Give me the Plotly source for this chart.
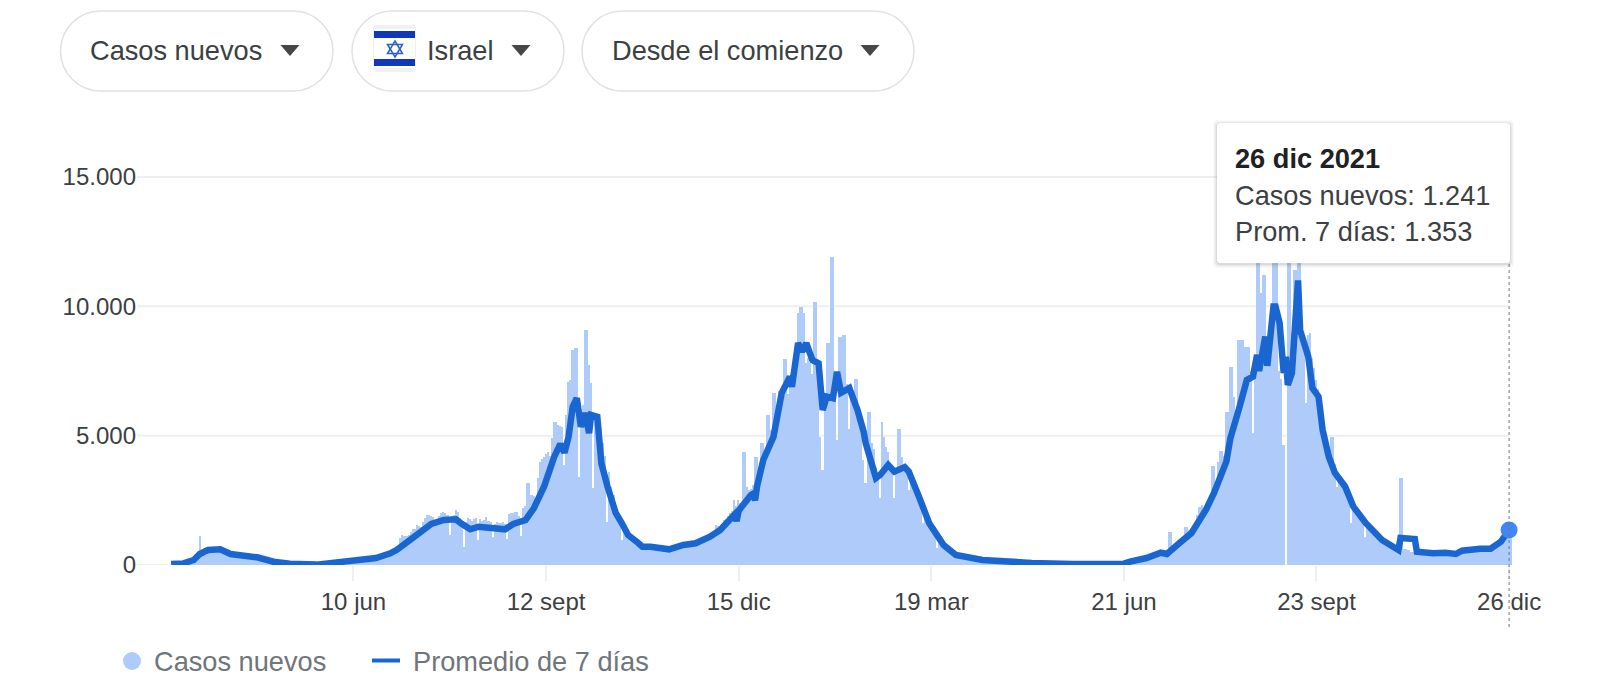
import pandas as pd
import plotly.graph_objects as go

# COVID-19 daily cases for Israel, 13 Mar 2020 - 26 Dec 2021 (one row per week)
start_date = "2020-03-13"
new_cases = [
    30, 20, 10, 60, 70, 80, 100,
    120, 100, 70, 180, 280, 350, 1120,
    500, 430, 400, 560, 620, 650, 640,
    620, 600, 540, 640, 620, 560, 460,
    430, 400, 330, 420, 420, 410, 400,
    380, 370, 230, 370, 340, 330, 310,
    300, 280, 150, 260, 230, 200, 170,
    140, 120, 60, 100, 90, 80, 70,
    60, 50, 20, 40, 40, 30, 30,
    25, 20, 10, 20, 20, 15, 15,
    15, 20, 8, 20, 25, 30, 35,
    40, 50, 30, 70, 90, 100, 110,
    120, 130, 90, 170, 180, 190, 200,
    210, 210, 220, 230, 240, 240, 250,
    260, 270, 280, 290, 330, 360, 390,
    430, 470, 500, 560, 650, 750, 1050,
    1160, 1120, 1130, 1170, 1270, 1390, 1380,
    1546, 1500, 1450, 1680, 1800, 1930, 1920,
    1900, 1870, 1750, 1780, 1900, 2020, 2030,
    2020, 1950, 1160, 1880, 1950, 2126, 2050,
    1830, 1700, 707, 1650, 1800, 1780, 1700,
    1760, 1800, 966, 1780, 1700, 1750, 1860,
    1720, 1650, 1094, 1600, 1660, 1640, 1620,
    1650, 1600, 1005, 1960, 2000, 2010, 2050,
    2040, 1900, 1120, 2220, 2300, 3180, 3180,
    2700, 2650, 2600, 3350, 3980, 4100, 4175,
    4300, 4350, 4200, 4900, 5530, 5520, 5430,
    5380, 5350, 3866, 5800, 7090, 7150, 8310,
    8390, 8390, 3410, 5800, 6200, 9080, 9080,
    7730, 7030, 2976, 5800, 5700, 5500, 5300,
    4700, 4200, 1674, 3600, 3000, 2700, 2300,
    2050, 1850, 966, 1650, 1500, 1300, 1120,
    1050, 950, 820, 860, 800, 760, 700,
    700, 680, 670, 690, 680, 650, 660,
    640, 630, 615, 610, 620, 640, 660,
    680, 690, 720, 750, 780, 790, 800,
    830, 860, 860, 870, 880, 900, 950,
    980, 1020, 1060, 1130, 1180, 1260, 1546,
    1500, 1430, 1380, 1740, 1780, 1900, 2000,
    2100, 2513, 2300, 2513, 2400, 4380, 4380,
    3000, 2900, 2950, 3100, 4187, 4187, 3700,
    4710, 4710, 4300, 5800, 5800, 5200, 6660,
    6660, 6000, 6740, 6300, 7960, 7960, 6600,
    7100, 7300, 8050, 8050, 9740, 9970, 9970,
    9740, 7800, 8000, 7800, 7400, 10180, 10180,
    7800, 4960, 3672, 6300, 8580, 8580, 11920,
    11920, 6700, 4830, 8810, 8810, 8890, 8890,
    7000, 5250, 6800, 6700, 7190, 7190, 6100,
    5600, 4050, 3170, 5900, 5900, 4700, 4500,
    3800, 3500, 2590, 5530, 4950, 4570, 4350,
    3900, 3700, 2590, 3700, 5260, 5260, 4190,
    3800, 3700, 2900, 3500, 3400, 3200, 2900,
    2700, 2500, 1612, 2200, 2100, 1900, 1700,
    1500, 1350, 657, 1100, 950, 900, 800,
    700, 620, 530, 560, 500, 460, 420,
    380, 340, 320, 300, 280, 250, 240,
    230, 220, 120, 190, 190, 170, 170,
    160, 150, 80, 130, 130, 120, 120,
    120, 110, 60, 100, 100, 90, 90,
    90, 90, 50, 85, 80, 80, 80,
    80, 75, 40, 70, 70, 65, 60,
    60, 55, 30, 55, 50, 50, 50,
    45, 45, 20, 40, 40, 40, 35,
    35, 30, 15, 30, 30, 25, 25,
    25, 25, 12, 25, 20, 20, 20,
    20, 25, 10, 25, 25, 30, 35,
    40, 45, 25, 55, 70, 90, 125,
    150, 170, 190, 210, 230, 250, 270,
    290, 310, 340, 370, 410, 430, 460,
    490, 450, 470, 1288, 1288, 760, 760,
    800, 850, 900, 950, 1480, 1480, 1350,
    1250, 1350, 1500, 1950, 2250, 2320, 2200,
    2350, 2500, 2600, 3827, 3827, 3200, 4000,
    4420, 4420, 4200, 5930, 5930, 7650, 7650,
    6510, 6000, 8700, 8700, 8700, 8430, 8430,
    8430, 7500, 5100, 7800, 12700, 12700, 10500,
    11200, 11200, 8800, 8000, 9000, 12900, 12900,
    12900, 7500, 7200, 4640, 0, 12400, 12400,
    9000, 11400, 11400, 12300, 12300, 9500, 8800,
    6260, 8900, 8970, 8000, 7600, 7150, 6800,
    6500, 5600, 4700, 4500, 4300, 4950, 4950,
    3900, 3027, 3500, 3350, 3200, 3050, 2950,
    2700, 1624, 2400, 2250, 2100, 1950, 1850,
    1750, 1094, 1550, 1500, 1420, 1350, 1250,
    1180, 1100, 1050, 1000, 950, 880, 820,
    760, 720, 680, 620, 3375, 3375, 620,
    600, 580, 500, 520, 480, 480, 470,
    460, 440, 440, 440, 440, 440, 440,
    440, 430, 430, 430, 430, 520, 450,
    430, 420, 400, 400, 410, 420, 580,
    540, 520, 540, 560, 570, 590, 620,
    620, 610, 620, 640, 640, 630, 630,
    640, 630, 640, 750, 850, 930, 1000,
    1100, 1040, 1241,
]

# Seven-day average, listed as (days since start, value)
avg_days = [
    0, 6, 11, 14, 18, 24, 29, 35, 42, 50, 58, 71, 81, 90, 100, 107, 110, 117, 123,
    127, 133, 139, 142, 146, 150, 156, 163, 167, 173, 177, 182, 187, 190, 192, 194,
    196, 198, 200, 202, 204, 205, 208, 210, 213, 217, 220, 223, 228, 230, 234, 243,
    250, 256, 263, 268, 275, 276, 277, 280, 283, 284, 285, 286, 289, 294, 298, 302,
    303, 306, 308, 310, 313, 316, 318, 320, 323, 325, 326, 327, 331, 335, 338, 339,
    344, 346, 350, 353, 358, 360, 365, 370, 377, 383, 396, 405, 420, 440, 455, 465,
    468, 476, 483, 486, 492, 498, 505, 509, 515, 517, 521, 525, 528, 530, 531, 534,
    535, 538, 539, 541, 543, 544, 545, 547, 550, 551, 555, 557, 560, 562, 565, 568,
    573, 577, 583, 591, 599, 600, 607, 608, 616, 622, 627, 630, 639, 644, 649, 653,
]
avg_values = [
    40, 60, 193, 425, 580, 605, 425, 387, 297, 128, 50, 15, 90, 193, 270, 452, 580, 993, 1353,
    1585, 1740, 1766, 1585, 1380, 1480, 1442, 1380, 1585, 1740, 2190, 3027, 4187, 4677, 4341, 4960,
    6120, 6450, 5345, 5876, 5100, 5800, 5730, 3930, 3027, 2010, 1612, 1160, 850, 707, 707, 606,
    773, 838, 1095, 1353, 1950, 1700, 2100, 2448, 2706, 2750, 2500, 3050, 4059, 4960, 6650, 7280,
    6890, 8580, 8245, 8580, 7920, 7800, 5990, 6510, 6450, 7470, 7150, 6660, 6840, 5990, 5150, 4710,
    3360, 3480, 3865, 3610, 3785, 3610, 2640, 1612, 773, 387, 193, 128, 80, 40, 25, 50,
    128, 270, 475, 425, 838, 1237, 2126, 2783, 3993, 4909, 5990, 7150, 7280, 8120, 7500, 8830,
    7700, 9990, 9990, 9350, 7420, 8050, 6960, 7420, 11000, 9080, 8050, 6840, 6510, 5220, 4187, 3555,
    3027, 2255, 1624, 966, 580, 1044, 1005, 514, 452, 475, 425, 553, 630, 630, 900, 1353,
]

x_tick_days = [89, 183, 277, 371, 465, 559, 653]
x_tick_labels = ["10 jun", "12 sept", "15 dic", "19 mar", "21 jun", "23 sept", "26 dic"]
y_ticks = [0, 5000, 10000, 15000]
y_tick_labels = ["0", "5.000", "10.000", "15.000"]

BAR_BLUE = "#aecbfa"
LINE_BLUE = "#1a66d0"
DOT_BLUE = "#4285f4"
GRID = "#eeeff0"
FONT = "Liberation Sans"
W, H = 1600, 697
PX_PER_DAY = 2.049
DAY_MS = 86400000

first = pd.Timestamp(start_date)
dates = pd.date_range(first, periods=len(new_cases), freq="D")
avg_dates = [first + pd.Timedelta(days=d) for d in avg_days]
tick_dates = [first + pd.Timedelta(days=d) for d in x_tick_days]
last_date = dates[-1]


def fx(px):
    return px / W


def fy(py):
    return 1 - py / H


def rect(x0, y0, x1, y1, **kw):
    return dict(type="rect", xref="paper", yref="paper", x0=fx(x0), x1=fx(x1),
                y0=fy(y1), y1=fy(y0), **kw)


def poly(points, **kw):
    d = "M " + " L ".join(f"{fx(x):.5f},{fy(y):.5f}" for x, y in points) + " Z"
    return dict(type="path", xref="paper", yref="paper", path=d, **kw)


def rounded(x0, y0, x1, y1, r, **kw):
    k = 0.45 * r
    pts = [
        f"M {fx(x0 + r):.5f},{fy(y0):.5f}",
        f"L {fx(x1 - r):.5f},{fy(y0):.5f}",
        f"C {fx(x1 - k):.5f},{fy(y0):.5f} {fx(x1):.5f},{fy(y0 + k):.5f} {fx(x1):.5f},{fy(y0 + r):.5f}",
        f"L {fx(x1):.5f},{fy(y1 - r):.5f}",
        f"C {fx(x1):.5f},{fy(y1 - k):.5f} {fx(x1 - k):.5f},{fy(y1):.5f} {fx(x1 - r):.5f},{fy(y1):.5f}",
        f"L {fx(x0 + r):.5f},{fy(y1):.5f}",
        f"C {fx(x0 + k):.5f},{fy(y1):.5f} {fx(x0):.5f},{fy(y1 - k):.5f} {fx(x0):.5f},{fy(y1 - r):.5f}",
        f"L {fx(x0):.5f},{fy(y0 + r):.5f}",
        f"C {fx(x0):.5f},{fy(y0 + k):.5f} {fx(x0 + k):.5f},{fy(y0):.5f} {fx(x0 + r):.5f},{fy(y0):.5f} Z",
    ]
    return dict(type="path", xref="paper", yref="paper", path=" ".join(pts), **kw)


def label(text, px, py, size=27.2, color="#3c4043"):
    return dict(text=text, xref="paper", yref="paper", x=fx(px), y=fy(py),
                xanchor="left", yanchor="middle", showarrow=False, borderpad=0,
                font=dict(family=FONT, size=size, color=color))


def es_number(v):
    return f"{v:,}".replace(",", ".")


shapes = []

# Horizontal grid stops at the last date while the bars run slightly past it
for v in y_ticks:
    shapes.append(dict(type="line", xref="paper", yref="y", x0=fx(137), x1=fx(1509), y0=v, y1=v,
                       line=dict(color=GRID, width=2), layer="below"))

# Dropdown pills
for x0, x1 in [(60.5, 333), (352, 564), (582, 914)]:
    shapes.append(rounded(x0, 11, x1, 91, 40, line=dict(color="#dfe1e5", width=1.5),
                          fillcolor="white", layer="above"))
for ax in (290, 521, 870):
    shapes.append(poly([(ax - 9.5, 45), (ax + 9.5, 45), (ax, 56)], fillcolor="#444746",
                       line=dict(width=0), layer="above"))

# Flag of Israel
shapes.append(rounded(373, 25, 416, 72, 3, fillcolor="#f1f1f1", line=dict(width=0), layer="above"))
shapes.append(rect(374, 29, 415, 68, fillcolor="white", line=dict(width=0), layer="above"))
shapes.append(rect(374, 31, 415, 38, fillcolor="#1038b8", line=dict(width=0), layer="above"))
shapes.append(rect(374, 59, 415, 66, fillcolor="#1038b8", line=dict(width=0), layer="above"))
star = dict(line=dict(color="#2f5fc4", width=1.5), fillcolor="rgba(0,0,0,0)", layer="above")
shapes.append(poly([(395, 41), (402.5, 53.5), (387.5, 53.5)], **star))
shapes.append(poly([(395, 57), (402.5, 44.5), (387.5, 44.5)], **star))

# Legend swatches
shapes.append(dict(type="circle", xref="paper", yref="paper", x0=fx(123), x1=fx(141),
                   y0=fy(670), y1=fy(652), fillcolor=BAR_BLUE, line=dict(width=0), layer="above"))
shapes.append(dict(type="line", xref="paper", yref="paper", x0=fx(372), x1=fx(400),
                   y0=fy(660.5), y1=fy(660.5), line=dict(color=LINE_BLUE, width=4), layer="above"))

# Crosshair at the selected date
shapes.append(dict(type="line", xref="x", yref="paper", x0=last_date, x1=last_date,
                   y0=fy(258), y1=fy(628), line=dict(color="#757575", width=1, dash="dot"), layer="above"))

# Tooltip with a soft shadow
for grow, alpha in [(4, 0.03), (3, 0.04), (2, 0.05), (1, 0.07)]:
    shapes.append(rounded(1217 - grow, 123 - grow + 1, 1510 + grow, 263 + grow + 1, 4,
                          fillcolor=f"rgba(60,64,67,{alpha})", line=dict(width=0), layer="above"))
shapes.append(rounded(1217, 123, 1510, 263, 3, fillcolor="white", line=dict(width=0), layer="above"))

annotations = [
    label("Casos nuevos", 89, 51),
    label("Israel", 426, 51),
    label("Desde el comienzo", 611, 51),
    label("Casos nuevos", 153, 661, color="#70757a"),
    label("Promedio de 7 días", 412, 661, color="#70757a"),
    label("<b>26 dic 2021</b>", 1234, 158, color="#202124"),
    label(f"Casos nuevos: {es_number(new_cases[-1])}", 1234, 195, color="#3c4043"),
    label(f"Prom. 7 días: {es_number(avg_values[-1])}", 1234, 232, color="#3c4043"),
]

fig = go.Figure()
fig.add_trace(go.Bar(x=dates, y=new_cases, width=DAY_MS, offset=DAY_MS * 0.4,
                     marker=dict(color=BAR_BLUE, line=dict(width=0)), hoverinfo="skip"))
fig.add_trace(go.Scatter(x=avg_dates, y=avg_values, mode="lines", cliponaxis=False,
                         line=dict(color=LINE_BLUE, width=6.5), hoverinfo="skip"))
fig.add_trace(go.Scatter(x=[last_date], y=[avg_values[-1]], mode="markers", cliponaxis=False,
                         marker=dict(color=DOT_BLUE, size=17, line=dict(width=0)), hoverinfo="skip"))

left_px, right_px = 137, 1516
zero_px = 171.1
range_start = first - pd.Timedelta(days=(zero_px - left_px) / PX_PER_DAY)
range_end = first + pd.Timedelta(days=(right_px - zero_px) / PX_PER_DAY)
y_top = 15000 / 388 * (565 - 150)

fig.update_layout(
    width=W, height=H, margin=dict(l=0, r=0, t=0, b=0),
    paper_bgcolor="white", plot_bgcolor="rgba(0,0,0,0)",
    showlegend=False, barmode="overlay", bargap=0, hovermode=False,
    font=dict(family=FONT, color="#3c4043"),
    shapes=shapes, annotations=annotations,
    xaxis=dict(domain=[fx(left_px), fx(right_px)], range=[range_start, range_end],
               type="date", tickmode="array", tickvals=tick_dates, ticktext=x_tick_labels,
               ticks="outside", ticklen=15, tickwidth=2, tickcolor=GRID, automargin=False,
               showgrid=False, zeroline=False, showline=False,
               tickfont=dict(family=FONT, size=24, color="#3c4043")),
    yaxis=dict(domain=[fy(565), fy(150)], range=[0, y_top],
               tickmode="array", tickvals=y_ticks, ticktext=y_tick_labels, automargin=False,
               showgrid=False, zeroline=False, showline=False, ticks="",
               tickfont=dict(family=FONT, size=24, color="#3c4043")),
)

fig.write_html("out.html", config=dict(displayModeBar=False))
